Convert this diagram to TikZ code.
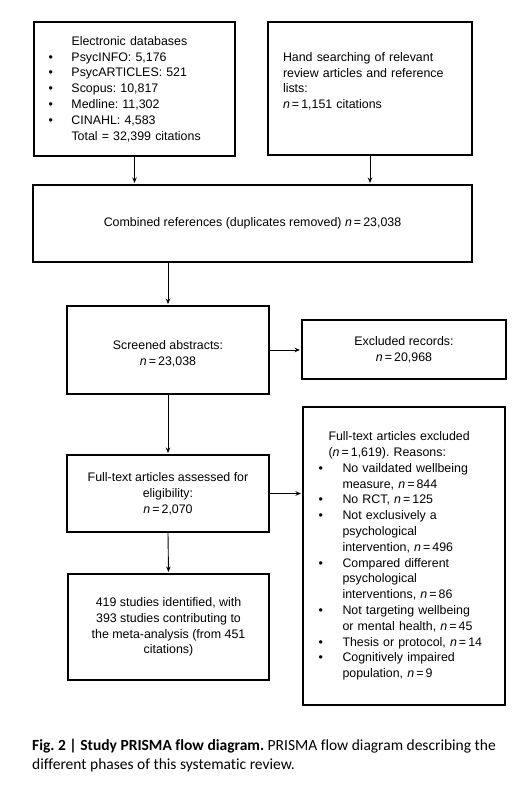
\documentclass[tikz,border=0pt]{standalone}
\usepackage{fontspec}
\setmainfont{Liberation Sans}
\newfontfamily\capfont[Ligatures=NoCommon]{Carlito}
\usetikzlibrary{arrows.meta}
\newcommand{\nn}{\textit{n}\,=\,}
\newcommand{\bul}[1][23pt]{\makebox[#1][l]{\textbullet}}
\newcommand{\ind}[1][24pt]{\hspace*{#1}}
\begin{document}
\frenchspacing
\begin{tikzpicture}[x=1pt,y=-1pt,
  box/.style={draw, line width=2pt, rectangle, inner sep=0pt,
    font=\fontsize{12.4}{15.8}\selectfont},
  arr/.style={-{Stealth[length=5.5pt,width=4.5pt]}, line width=0.9pt, shorten >=1pt}]
\useasboundingbox (0,0) rectangle (522,791);
\node[box, minimum width=201pt, minimum height=134pt, inner xsep=14.5pt,
  text width=172pt, align=left] (db) at (134.5,89)
  {\ind[23pt]Electronic databases\\
   \bul PsycINFO: 5,176\\
   \bul PsycARTICLES: 521\\
   \bul Scopus: 10,817\\
   \bul Medline: 11,302\\
   \bul CINAHL: 4,583\\
   \ind[23pt]Total = 32,399 citations};
\node[box, minimum width=204pt, minimum height=133pt, inner xsep=15pt,
  text width=174pt, align=left] (hs) at (370,88.5)
  {Hand searching of relevant\\
   review articles and reference\\
   lists:\\
   \nn 1,151 citations\\
   \mbox{}};
\node[box, minimum width=439pt, minimum height=77pt, align=center] (comb) at (252.5,223.5)
  {Combined references (duplicates removed) \nn 23,038};
\node[box, minimum width=202pt, minimum height=88pt, align=center] (scr) at (168,350)
  {\mbox{}\\Screened abstracts:\\\nn 23,038};
\node[box, minimum width=204pt, minimum height=59pt, align=center] (exc1) at (404,349.5)
  {Excluded records:\\\nn 20,968};
\node[box, minimum width=202pt, minimum height=77pt, align=center] (full) at (168,493.5)
  {Full-text articles assessed for\\eligibility:\\\nn 2,070};
\node[box, minimum width=201pt, minimum height=106pt, align=center] (fin) at (168.5,627)
  {419 studies identified, with\\393 studies contributing to\\the meta-analysis (from 451\\citations)};
\node[box, minimum width=202pt, minimum height=298pt, inner xsep=15.5pt,
  text width=171pt, align=left] (exc2) at (404,556)
  {\ind[10pt]Full-text articles excluded\\
   \ind[10pt](\nn 1,619). Reasons:\\
   \bul[24pt]No vaildated wellbeing\\
   \ind measure, \nn 844\\
   \bul[24pt]No RCT, \nn 125\\
   \bul[24pt]Not exclusively a\\
   \ind psychological\\
   \ind intervention, \nn 496\\
   \bul[24pt]Compared different\\
   \ind psychological\\
   \ind interventions, \nn 86\\
   \bul[24pt]Not targeting wellbeing\\
   \ind or mental health, \nn 45\\
   \bul[24pt]Thesis or protocol, \nn 14\\
   \bul[24pt]Cognitively impaired\\
   \ind population, \nn 9};
\draw[arr] (db.south) -- (db.south |- comb.north);
\draw[arr] (hs.south) -- (hs.south |- comb.north);
\draw[arr] (scr.north |- comb.south) -- (scr.north);
\draw[arr] (scr.east) -- (scr.east -| exc1.west);
\draw[arr] (scr.south) -- (full.north);
\draw[arr] (full.south) -- (fin.north);
\draw[arr] (full.east) -- (full.east -| exc2.west);
\node[anchor=north west, inner sep=0pt, align=left,
  font=\capfont\fontsize{15.5}{18.6}\selectfont] (cap) at (32,739.3)
  {\textbf{Fig. 2 | Study PRISMA flow diagram.} PRISMA flow diagram describing the\\
   different phases of this systematic review.};
\end{tikzpicture}
\end{document}
